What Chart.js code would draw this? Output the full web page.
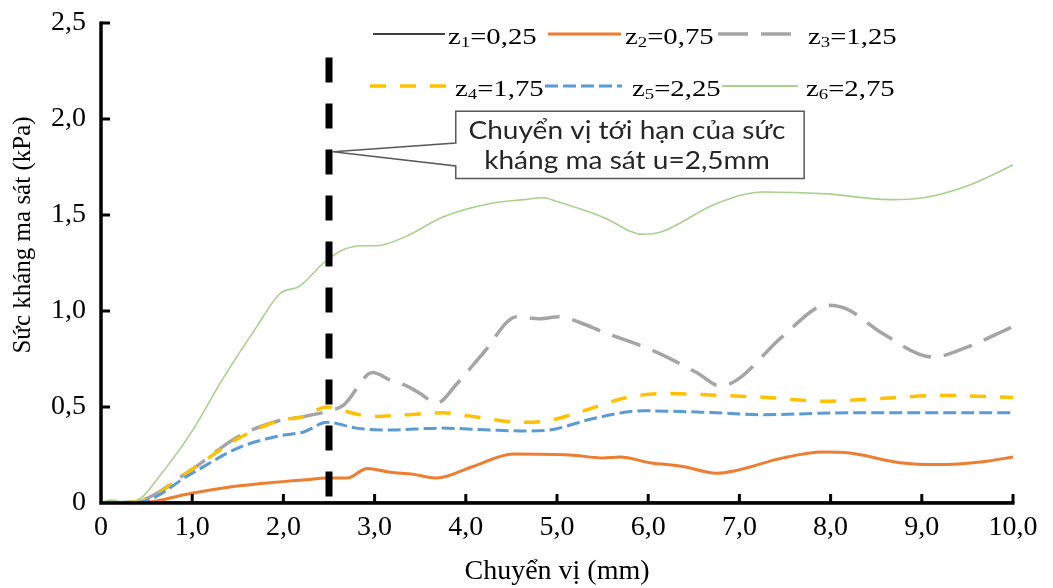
<!DOCTYPE html>
<html>
<head>
<meta charset="utf-8">
<script src="https://cdn.jsdelivr.net/npm/chart.js@4.4.1/dist/chart.umd.min.js"></script>
<style>
html,body{margin:0;padding:0;background:#ffffff;}
#wrap{width:1053px;height:588px;position:relative;}
</style>
</head>
<body>
<div id="wrap"><canvas id="c" width="1053" height="588"></canvas></div>
<script>
// ---------- DATA ----------
const xTicks = [0, 1, 2, 3, 4, 5, 6, 7, 8, 9, 10];
const yTicks = [0, 0.5, 1, 1.5, 2, 2.5];

const seriesSub = ['1', '2', '3', '4', '5', '6'];
const seriesZ = ['0,25', '0,75', '1,25', '1,75', '2,25', '2,75'];

const z1X = [0, 0.1, 0.3, 0.5, 10];
const z1Y = [0, 0.01, 0, 0.005, 0.005];

const z2X = [0, 0.43, 0.98, 1.52, 1.96, 2.22, 2.48, 2.7, 2.92, 3.17, 3.42, 3.68, 4.08, 4.52, 5.14, 5.51, 5.69, 6.02, 6.38, 6.75, 6.97, 7.48, 7.92, 8.21, 8.76, 9.17, 9.67, 10.0];
const z2Y = [0, 0, 0.05, 0.09, 0.11, 0.12, 0.13, 0.13, 0.18, 0.16, 0.15, 0.13, 0.19, 0.255, 0.25, 0.235, 0.24, 0.21, 0.19, 0.155, 0.17, 0.235, 0.265, 0.26, 0.21, 0.20, 0.215, 0.24];

const z3X = [0, 0.4, 0.98, 1.52, 1.96, 2.22, 2.5, 2.66, 2.98, 3.17, 3.35, 3.5, 3.68, 3.9, 4.19, 4.56, 4.8, 5.03, 5.25, 5.51, 6.02, 6.53, 6.79, 6.97, 7.48, 7.96, 8.18, 8.58, 9.12, 9.49, 10.0];
const z3Y = [0, 0.01, 0.17, 0.35, 0.43, 0.45, 0.48, 0.51, 0.68, 0.64, 0.61, 0.57, 0.52, 0.62, 0.78, 0.97, 0.96, 0.97, 0.94, 0.89, 0.80, 0.68, 0.61, 0.64, 0.87, 1.03, 1.01, 0.88, 0.76, 0.81, 0.92];

const z4X = [0, 0.43, 0.98, 1.52, 1.96, 2.22, 2.48, 2.66, 2.98, 3.35, 3.75, 4.08, 4.63, 4.92, 5.29, 5.77, 6.2, 6.82, 7.3, 7.92, 8.4, 9.23, 10.0];
const z4Y = [0, 0.01, 0.17, 0.34, 0.43, 0.45, 0.50, 0.48, 0.45, 0.46, 0.47, 0.45, 0.42, 0.43, 0.48, 0.55, 0.57, 0.56, 0.55, 0.53, 0.54, 0.56, 0.55];

const z5X = [0, 0.43, 0.98, 1.52, 1.96, 2.22, 2.48, 2.8, 3.17, 3.72, 4.27, 4.7, 4.92, 5.4, 5.94, 6.75, 7.26, 8.21, 9.12, 10.0];
const z5Y = [0, 0.005, 0.15, 0.29, 0.35, 0.37, 0.42, 0.39, 0.38, 0.39, 0.38, 0.375, 0.38, 0.44, 0.48, 0.47, 0.46, 0.47, 0.47, 0.47];

const z6X = [0, 0.1, 0.3, 0.45, 0.61, 0.98, 1.34, 1.71, 1.96, 2.18, 2.44, 2.66, 2.87, 3.02, 3.35, 3.75, 4.27, 4.63, 4.85, 5.0, 5.5, 5.94, 6.13, 6.75, 7.26, 7.96, 8.65, 9.02, 9.49, 10.0];
const z6Y = [0, 0.015, 0, 0.03, 0.12, 0.36, 0.65, 0.92, 1.09, 1.13, 1.25, 1.32, 1.34, 1.34, 1.39, 1.49, 1.56, 1.58, 1.59, 1.57, 1.49, 1.40, 1.41, 1.56, 1.62, 1.61, 1.58, 1.59, 1.65, 1.76];

const markerX = 2.5;      // critical displacement u = 2,5 mm
const markerTop = 2.32;

const xTitle = 'Chuyển vị (mm)';
const yTitle = 'Sức kháng ma sát (kPa)';
const calloutLines = ['Chuyển vị tới hạn của sức', 'kháng ma sát u=2,5mm'];

// ---------- STYLES ----------
const seriesStyles = [
  { color: '#404040', width: 1.5, dash: [] },
  { color: '#ED7D31', width: 3, dash: [] },
  { color: '#A5A5A5', width: 3.5, dash: [30, 13] },
  { color: '#FFC000', width: 3.5, dash: [16, 14] },
  { color: '#5B9BD5', width: 3, dash: [13, 5] },
  { color: '#A9D18E', width: 1.6, dash: [] }
];
const seriesX = [z1X, z2X, z3X, z4X, z5X, z6X];
const seriesY = [z1Y, z2Y, z3Y, z4Y, z5Y, z6Y];

const fmt = v => (v === 0 ? '0' : v.toFixed(1).replace('.', ','));

const datasets = seriesX.map((xs, i) => ({
  label: 'z' + seriesSub[i] + '=' + seriesZ[i],
  data: xs.map((x, j) => ({ x: x, y: seriesY[i][j] })),
  borderColor: seriesStyles[i].color,
  borderWidth: seriesStyles[i].width,
  borderDash: seriesStyles[i].dash,
  borderCapStyle: 'butt',
  pointRadius: 0,
  fill: false,
  cubicInterpolationMode: 'monotone',
  order: 6 - i
}));
datasets.push({
  label: 'u',
  data: [{ x: markerX, y: markerTop }, { x: markerX, y: 0 }],
  borderColor: '#000000',
  borderWidth: 7,
  borderDash: [25, 21],
  borderCapStyle: 'butt',
  pointRadius: 0,
  fill: false,
  tension: 0,
  order: 0
});

// Legend layout (pixels)
const legendLayout = [
  { l0: 373, l1: 445, tx: 448, ly: 34, by: 44 },
  { l0: 548, l1: 621, tx: 625, ly: 34, by: 44 },
  { l0: 718, l1: 798, tx: 808, ly: 34, by: 44 },
  { l0: 370, l1: 447, tx: 455, ly: 86, by: 96 },
  { l0: 545, l1: 622, tx: 632, ly: 86, by: 96 },
  { l0: 722, l1: 798, tx: 806, ly: 86, by: 96 }
];
// Callout geometry in data coordinates
const callout = { left: 3.89, right: 7.71, top: 2.04, bottom: 1.69, tipY: 1.83, a1: 1.875, a2: 1.755, l1: 1.94, l2: 1.78 };

const decor = {
  id: 'decor',
  afterDatasetsDraw(chart) {
    const ctx = chart.ctx;
    const xs = chart.scales.x, ys = chart.scales.y;
    const X = v => xs.getPixelForValue(v), Y = v => ys.getPixelForValue(v);
    ctx.save();
    // axes
    ctx.strokeStyle = '#000';
    ctx.lineWidth = 3.5;
    ctx.setLineDash([]);
    ctx.lineCap = 'butt';
    ctx.beginPath();
    ctx.moveTo(X(0), Y(2.5) - 1.5);
    ctx.lineTo(X(0), Y(0));
    ctx.lineTo(X(10) + 1.5, Y(0));
    ctx.stroke();
    ctx.lineWidth = 3;
    yTicks.forEach(v => { if (v === 0) return; ctx.beginPath(); ctx.moveTo(X(0), Y(v)); ctx.lineTo(X(0) + 9, Y(v)); ctx.stroke(); });
    xTicks.forEach(v => { if (v === 0) return; ctx.beginPath(); ctx.moveTo(X(v), Y(0)); ctx.lineTo(X(v), Y(0) - 9); ctx.stroke(); });

    // callout
    const bl = X(callout.left), br = X(callout.right), bt = Y(callout.top), bb = Y(callout.bottom);
    const tipX = X(markerX) + 4, tipY = Y(callout.tipY);
    ctx.beginPath();
    ctx.moveTo(bl, bt);
    ctx.lineTo(br, bt);
    ctx.lineTo(br, bb);
    ctx.lineTo(bl, bb);
    ctx.lineTo(bl, Y(callout.a2));
    ctx.lineTo(tipX, tipY);
    ctx.lineTo(bl, Y(callout.a1));
    ctx.closePath();
    ctx.fillStyle = '#ffffff';
    ctx.fill();
    ctx.strokeStyle = '#595959';
    ctx.lineWidth = 1.5;
    ctx.lineJoin = 'miter';
    ctx.stroke();
    ctx.fillStyle = '#262626';
    ctx.font = '25px Lato, "Open Sans", sans-serif';
    ctx.textBaseline = 'middle';
    ctx.textAlign = 'center';
    const w1 = ctx.measureText(calloutLines[0]).width;
    const sx = 317 / w1;
    const cx = (bl + br) / 2 - 3;
    [callout.l1, callout.l2].forEach((yy, k) => {
      ctx.save();
      ctx.translate(cx, Y(yy));
      ctx.scale(sx, 1);
      ctx.fillText(calloutLines[k], 0, 0);
      ctx.restore();
    });

    // legend
    legendLayout.forEach((p, i) => {
      const st = seriesStyles[i];
      ctx.beginPath();
      ctx.strokeStyle = st.color;
      ctx.lineWidth = st.width + (st.width < 2 ? 0.5 : 0);
      ctx.setLineDash(st.dash);
      ctx.moveTo(p.l0, p.ly);
      ctx.lineTo(p.l1, p.ly);
      ctx.stroke();
      ctx.setLineDash([]);
      ctx.save();
      ctx.translate(p.tx, p.by);
      ctx.scale(1.25, 1);
      ctx.fillStyle = '#000';
      ctx.textAlign = 'left';
      ctx.textBaseline = 'alphabetic';
      ctx.font = '23px "Liberation Serif", serif';
      ctx.fillText('z', 0, 0);
      let c = ctx.measureText('z').width;
      ctx.font = '15px "Liberation Serif", serif';
      ctx.fillText(seriesSub[i], c, 3);
      c += ctx.measureText(seriesSub[i]).width;
      ctx.font = '23px "Liberation Serif", serif';
      ctx.fillText('=' + seriesZ[i], c, 0);
      ctx.restore();
    });

    // y axis title
    ctx.save();
    ctx.translate(23, 235);
    ctx.rotate(-Math.PI / 2);
    ctx.fillStyle = '#000';
    ctx.textAlign = 'center';
    ctx.textBaseline = 'middle';
    ctx.font = '25px "Liberation Serif", serif';
    ctx.fillText(yTitle, 0, 0);
    ctx.restore();

    ctx.restore();
  }
};

new Chart(document.getElementById('c'), {
  type: 'line',
  data: { datasets: datasets },
  options: {
    responsive: false,
    animation: false,
    devicePixelRatio: 1,
    layout: { padding: { top: 23, right: 40, bottom: 0, left: 0 } },
    plugins: { legend: { display: false }, tooltip: { enabled: false } },
    scales: {
      x: {
        type: 'linear', min: 0, max: 10,
        afterBuildTicks: s => { s.ticks = xTicks.map(v => ({ value: v })); },
        afterFit: s => { s.height = 85; s.paddingLeft = 0; s.paddingRight = 0; },
        grid: { display: false, drawTicks: false },
        border: { display: false },
        ticks: { callback: v => fmt(v), color: '#000', padding: 8, maxRotation: 0, autoSkip: false,
                 font: { family: '"Liberation Serif", serif', size: 28 } },
        title: { display: true, text: xTitle, color: '#000', padding: { top: 0, bottom: 0 },
                 font: { family: '"Liberation Serif", serif', size: 28 } }
      },
      y: {
        type: 'linear', min: 0, max: 2.5,
        afterBuildTicks: s => { s.ticks = yTicks.map(v => ({ value: v })); },
        afterFit: s => { s.width = 101; s.paddingTop = 0; s.paddingBottom = 0; },
        grid: { display: false, drawTicks: false },
        border: { display: false },
        ticks: { callback: v => fmt(v), color: '#000', padding: 15, autoSkip: false,
                 font: { family: '"Liberation Serif", serif', size: 28 } },
        title: { display: false, text: yTitle }
      }
    }
  },
  plugins: [decor]
});
</script>
</body>
</html>
